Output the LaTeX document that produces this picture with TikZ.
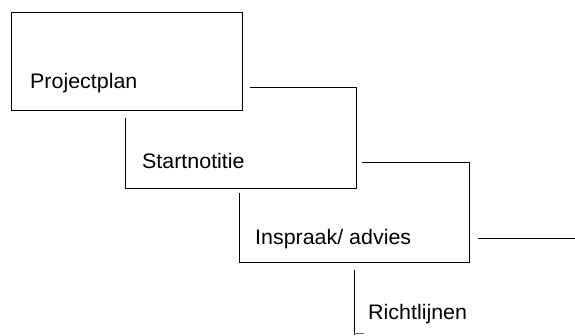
\documentclass[tikz,border=0pt]{standalone}
\usepackage{fontspec}
\setmainfont[FakeStretch=1.02]{Liberation Sans}
\begin{document}
\begin{tikzpicture}[x=1pt,y=-1pt,
  edge/.style={draw=black,line width=1pt,line cap=butt,line join=miter},
  lbl/.style={anchor=base west,inner sep=0pt,font=\fontsize{21}{25}\selectfont}]
\useasboundingbox (0,0) rectangle (575,335);
% box 1
\draw[edge] (11,12) rectangle (242,110);
% box 2
\draw[edge] (250,87) -- (356,87) -- (356,188) -- (125,188) -- (125,118);
% box 3
\draw[edge] (362,162) -- (469,162) -- (469,262) -- (239,262) -- (239,193);
% box 4
\draw[edge] (478,238) -- (575,238);
\draw[edge] (354,270) -- (354,335);
\draw[draw=black!60,line width=0.8pt] (354,333.5) -- (364,333.5);
% labels
\node[lbl] (p1) at (30,88) {Projectplan};
\node[lbl] (p2) at (142,168) {Startnotitie};
\node[lbl] (p3) at (255,244) {Inspraak/ advies};
\node[lbl] (p4) at (368,319) {Richtlijnen};
\end{tikzpicture}
\end{document}
